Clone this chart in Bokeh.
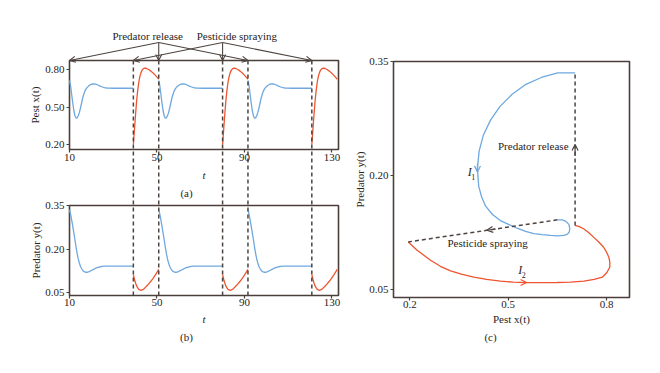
from bokeh.plotting import figure
from bokeh.models import Range1d, LinearAxis, FixedTicker, PrintfTickFormatter, Arrow, OpenHead
from bokeh.core.properties import value
from bokeh.embed import file_html
from bokeh.resources import INLINE

# ---------------- data ----------------
RELEASE_T = [10.0, 50.8, 91.6]      # predator release times
SPRAY_T = [39.2, 80.0, 120.8]       # pesticide spraying times

# one cycle after a predator release (blue), time since release
BLUE_DT = [0, 0.5, 1, 1.5, 2, 2.5, 3, 3.5, 4, 4.5, 5, 5.5, 6, 6.5, 7, 7.5, 8,
           9, 10, 11, 12, 13, 14, 15, 16, 17, 18, 20, 24, 29.2]
BLUE_PEST = [0.712, 0.67, 0.60, 0.53, 0.47, 0.43, 0.41, 0.413, 0.43, 0.455, 0.49,
             0.53, 0.57, 0.60, 0.625, 0.643, 0.655, 0.672, 0.682, 0.685, 0.683,
             0.676, 0.667, 0.66, 0.655, 0.652, 0.651, 0.65, 0.65, 0.65]
BLUE_PRED = [0.335, 0.32, 0.30, 0.278, 0.255, 0.232, 0.207, 0.185, 0.166, 0.152,
             0.141, 0.133, 0.127, 0.123, 0.121, 0.120, 0.120, 0.122, 0.126, 0.130,
             0.134, 0.137, 0.139, 0.140, 0.141, 0.141, 0.141, 0.141, 0.141, 0.141]

# one cycle after a pesticide spraying (red), time since spraying
RED_DT = [0, 0.5, 1, 1.5, 2, 2.5, 3, 3.5, 4, 4.5, 5, 5.5, 6, 7, 8, 9, 10, 11, 11.6]
RED_PEST = [0.20, 0.32, 0.44, 0.55, 0.635, 0.70, 0.745, 0.775, 0.795, 0.805, 0.81,
            0.81, 0.808, 0.80, 0.787, 0.772, 0.755, 0.735, 0.722]
RED_PRED = [0.112, 0.096, 0.083, 0.073, 0.066, 0.061, 0.059, 0.058, 0.059, 0.061,
            0.064, 0.068, 0.072, 0.080, 0.089, 0.099, 0.110, 0.122, 0.130]

# phase portrait (c)
PHASE_BLUE_X = [0.704, 0.651, 0.601, 0.554, 0.512, 0.475, 0.446, 0.424, 0.411, 0.406,
                0.410, 0.419, 0.431, 0.452, 0.476, 0.501, 0.527, 0.553, 0.578, 0.604,
                0.629, 0.650, 0.669, 0.680, 0.686, 0.688, 0.685, 0.676, 0.665, 0.650]
PHASE_BLUE_Y = [0.335, 0.335, 0.329, 0.320, 0.307, 0.291, 0.273, 0.253, 0.232, 0.209,
                0.186, 0.172, 0.160, 0.149, 0.141, 0.136, 0.131, 0.127, 0.124, 0.1225,
                0.1215, 0.121, 0.1215, 0.123, 0.126, 0.130, 0.136, 0.140, 0.142, 0.142]
PHASE_RED_X = [0.195, 0.222, 0.263, 0.293, 0.324, 0.357, 0.395, 0.434, 0.476, 0.515,
               0.553, 0.601, 0.649, 0.690, 0.731, 0.762, 0.787, 0.801, 0.810, 0.810,
               0.807, 0.800, 0.791, 0.777, 0.761, 0.746, 0.731, 0.717, 0.704]
PHASE_RED_Y = [0.113, 0.102, 0.089, 0.081, 0.075, 0.0706, 0.0667, 0.0637, 0.0614,
               0.0602, 0.0597, 0.0595, 0.0597, 0.0602, 0.0614, 0.0637, 0.0667, 0.0728,
               0.080, 0.0866, 0.093, 0.0995, 0.106, 0.1126, 0.119, 0.125, 0.130, 0.133,
               0.1346]

T_TICKS = [10, 50, 90, 130]
PEST_TICKS = [0.2, 0.5, 0.8]
PRED_TICKS = [0.05, 0.2, 0.35]
PHASE_X_TICKS = [0.2, 0.5, 0.8]
PHASE_Y_TICKS = [0.05, 0.2, 0.35]

T_LIM = (10, 133)
PEST_LIM = (0.16, 0.872)
PRED_LIM = (0.04, 0.35)
PHASE_X_LIM = (0.15, 0.87)
PHASE_Y_LIM = (0.04, 0.35)

# ---------------- layout (page pixels) ----------------
W, H, M = 656, 370, 0
BOX_A = dict(x=(69, 338), y=(149, 60))
BOX_B = dict(x=(69, 338), y=(295, 205))
BOX_C = dict(x=(393, 629), y=(297, 61))

BLUE = "#6ea8df"
RED = "#ee5430"
FRAME = "#4a3f3a"
DASH = "#4d4440"
TEXT = "#2a2421"
FONT = "Liberation Serif"


def lin(d0, d1, p0, p1):
    s = (p1 - p0) / (d1 - d0)
    return lambda px: d0 + (px - p0) / s


ta = lin(*T_LIM, *BOX_A["x"])
ya = lin(*PEST_LIM, *BOX_A["y"])
yb = lin(*PRED_LIM, *BOX_B["y"])
xc = lin(*PHASE_X_LIM, *BOX_C["x"])
yc = lin(*PHASE_Y_LIM, *BOX_C["y"])

p = figure(width=W, height=H,
           x_range=Range1d(ta(M), ta(M + W)), y_range=Range1d(yb(M + H), yb(M)),
           x_axis_type=None, y_axis_type=None,
           toolbar_location=None, output_backend="svg", min_border=0,
           outline_line_color=None, background_fill_color="white")
p.extra_x_ranges = {"xc": Range1d(xc(M), xc(M + W))}
p.extra_y_ranges = {"ya": Range1d(ya(M + H), ya(M)), "yc": Range1d(yc(M + H), yc(M))}


def style(ax, label_style="normal", lstand=1, astand=3):
    ax.axis_line_color = None
    ax.major_tick_line_color = FRAME
    ax.major_tick_line_width = 1.2
    ax.major_tick_out = 3
    ax.major_tick_in = 0
    ax.minor_tick_line_color = None
    ax.major_label_text_font = FONT
    ax.major_label_text_font_size = "11px"
    ax.major_label_text_color = TEXT
    ax.major_label_standoff = lstand
    ax.axis_label_text_font = FONT
    ax.axis_label_text_font_size = "11px"
    ax.axis_label_text_font_style = label_style
    ax.axis_label_text_color = TEXT
    ax.axis_label_standoff = astand


def panel(xname, yname, xlim, ylim, xticks, yticks, yfmt, xlabel, xstyle, ylabel,
          xl_stand, xa_stand, ya_stand):
    ax = LinearAxis(x_range_name=xname, y_range_name=yname, fixed_location=ylim[0],
                    bounds=xlim, ticker=FixedTicker(ticks=xticks), axis_label=xlabel)
    style(ax, xstyle, xl_stand, xa_stand)
    p.add_layout(ax, "below")
    ay = LinearAxis(x_range_name=xname, y_range_name=yname, fixed_location=xlim[0],
                    bounds=ylim, ticker=FixedTicker(ticks=yticks),
                    formatter=PrintfTickFormatter(format=yfmt), axis_label=ylabel)
    style(ay, "normal", 2, ya_stand)
    p.add_layout(ay, "left")
    p.quad(left=[xlim[0]], right=[xlim[1]], bottom=[ylim[0]], top=[ylim[1]],
           fill_color=None, line_color=FRAME, line_width=1.6,
           x_range_name=xname, y_range_name=yname)


panel("default", "ya", T_LIM, PEST_LIM, T_TICKS, PEST_TICKS, "%.2f", "t", "italic",
      "Pest x(t)", 1, 5, 1)
panel("default", "default", T_LIM, PRED_LIM, T_TICKS, PRED_TICKS, "%.2f", "t", "italic",
      "Predator y(t)", 0, 4, 0)
panel("xc", "yc", PHASE_X_LIM, PHASE_Y_LIM, PHASE_X_TICKS, PHASE_Y_TICKS, "%.2f",
      "Pest x(t)", "normal", "Predator y(t)", 0, 2, 0)

# ---------------- time series (a), (b) ----------------
for t0 in RELEASE_T:
    tt = [t0 + d for d in BLUE_DT]
    p.line(tt, BLUE_PEST, color=BLUE, line_width=1.3, y_range_name="ya")
    p.line(tt, BLUE_PRED, color=BLUE, line_width=1.3)
for t0 in SPRAY_T:
    tt = [t0 + d for d in RED_DT]
    p.line(tt, RED_PEST, color=RED, line_width=1.3, y_range_name="ya")
    p.line(tt, RED_PRED, color=RED, line_width=1.3)

# dashed event lines crossing (a) and (b)
ev = sorted(RELEASE_T[1:] + SPRAY_T)
p.segment(x0=ev, x1=ev, y0=[PRED_LIM[0]] * len(ev), y1=[yb(BOX_A["y"][1])] * len(ev),
          line_color=DASH, line_width=1.5, line_dash="4 3")

# annotation arrows above (a)
top_y = PEST_LIM[1]
hub_y = ya(42)
for hub, targets in ((RELEASE_T[1], RELEASE_T), (SPRAY_T[1], SPRAY_T)):
    for tgt in targets:
        p.add_layout(Arrow(x_start=hub, y_start=hub_y, x_end=tgt, y_end=top_y,
                           y_range_name="ya", line_color=DASH, line_width=1.1,
                           end=OpenHead(size=6, line_color=DASH, line_width=1.1)))

def txt(x, y, s, xr="default", yr="default", align="center", size="11px", style="normal"):
    p.text(x=[x], y=[y], text=[s], x_range_name=xr, y_range_name=yr,
           text_font=value(FONT), text_font_size=size, text_font_style=style,
           text_color=TEXT, text_align=align, text_baseline="middle")

txt(ta(147.2), ya(35), "Predator release", yr="ya")
txt(ta(236.3), ya(35), "Pesticide spraying", yr="ya")
txt(ta(186), ya(192), "(a)", yr="ya")
txt(ta(186), yb(336), "(b)")
txt(xc(490), yc(336), "(c)", xr="xc", yr="yc")

# ---------------- phase portrait (c) ----------------
p.line(PHASE_BLUE_X, PHASE_BLUE_Y, color=BLUE, line_width=1.3, x_range_name="xc", y_range_name="yc")
p.line(PHASE_RED_X, PHASE_RED_Y, color=RED, line_width=1.3, x_range_name="xc", y_range_name="yc")
# impulsive jumps
p.line([PHASE_RED_X[-1], PHASE_BLUE_X[0]], [PHASE_RED_Y[-1], PHASE_BLUE_Y[0]],
       color=DASH, line_width=1.5, line_dash="4 3", x_range_name="xc", y_range_name="yc")
p.line([PHASE_BLUE_X[-1], PHASE_RED_X[0]], [PHASE_BLUE_Y[-1], PHASE_RED_Y[0]],
       color=DASH, line_width=1.5, line_dash="4 3", x_range_name="xc", y_range_name="yc")

def mark(x0, y0, x1, y1, col):
    p.add_layout(Arrow(x_start=x0, y_start=y0, x_end=x1, y_end=y1, x_range_name="xc",
                       y_range_name="yc", line_color=col, line_width=1.2,
                       end=OpenHead(size=6, line_color=col, line_width=1.2)))

mark(0.4062, 0.216, 0.406, 0.205, BLUE)
mark(0.535, 0.0597, 0.556, 0.0597, RED)
mark(0.462, 0.1300, 0.435, 0.1283, DASH)
mark(0.704, 0.226, 0.704, 0.241, DASH)

txt(0.684, 0.239, "Predator release", xr="xc", yr="yc", align="right")
txt(0.437, 0.112, "Pesticide spraying", xr="xc", yr="yc")
txt(0.383, 0.205, "I", xr="xc", yr="yc", size="12px", style="italic")
txt(0.3935, 0.1985, "1", xr="xc", yr="yc", size="8px")
txt(0.537, 0.0755, "I", xr="xc", yr="yc", size="12px", style="italic")
txt(0.5475, 0.069, "2", xr="xc", yr="yc", size="8px")

open("out.html", "w").write(file_html(p, INLINE))
